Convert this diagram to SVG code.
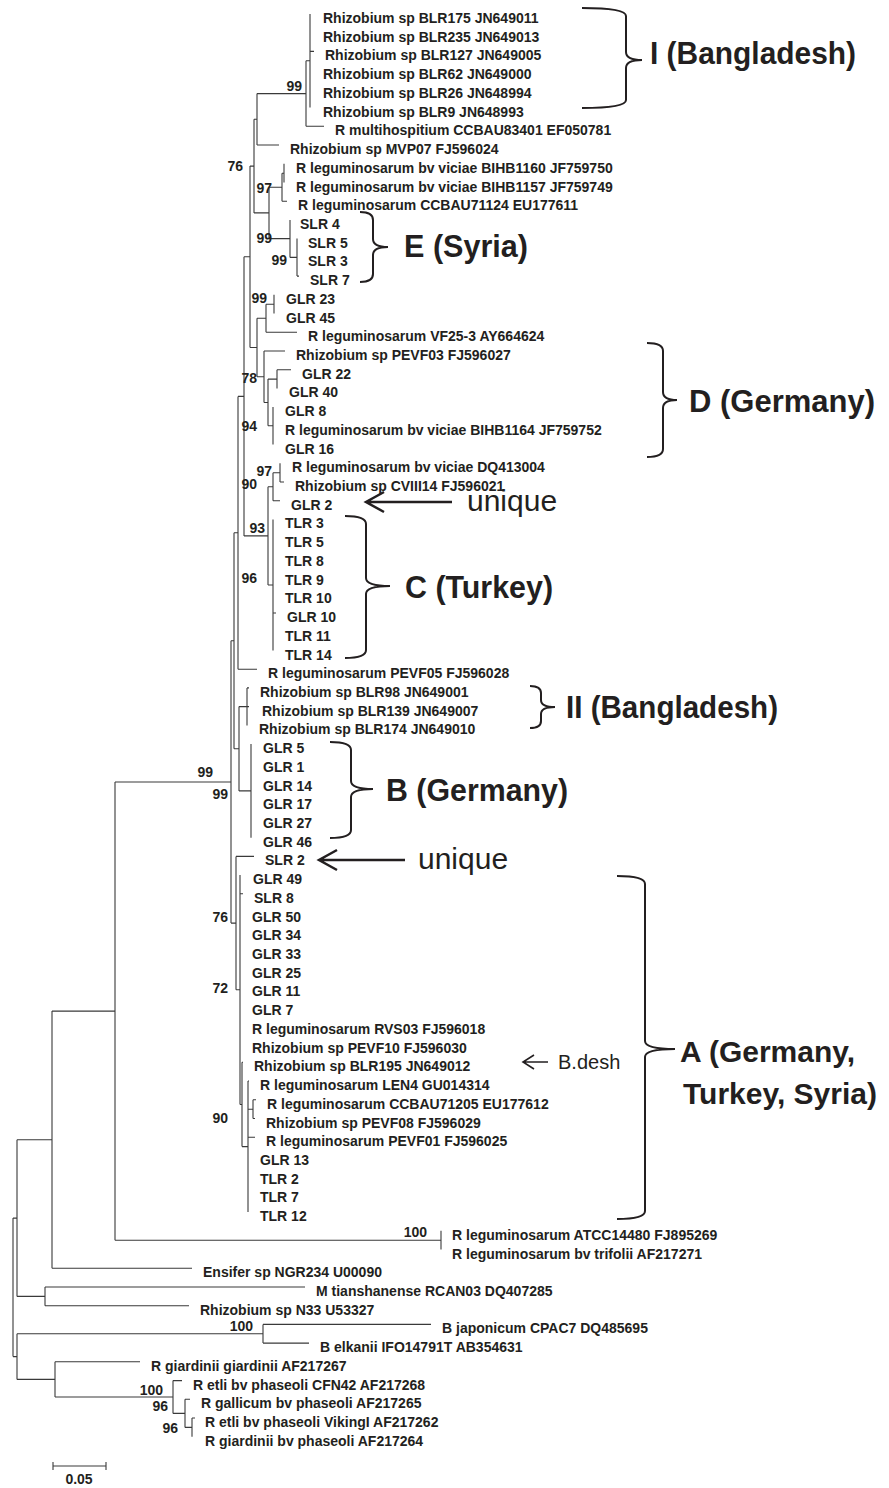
<svg xmlns="http://www.w3.org/2000/svg" width="889" height="1488" viewBox="0 0 889 1488">
<style>
.t{font-family:"Liberation Sans",Arial,sans-serif;font-weight:bold;font-size:14px;fill:#231f20}
.bs{font-family:"Liberation Sans",Arial,sans-serif;font-weight:bold;font-size:14px;fill:#231f20;text-anchor:end}
.big{font-family:"Liberation Sans",Arial,sans-serif;font-weight:bold;font-size:32px;fill:#231f20}
.bigA{font-family:"Liberation Sans",Arial,sans-serif;font-weight:bold;font-size:30px;fill:#231f20}
.uq{font-family:"Liberation Sans",Arial,sans-serif;font-size:30px;fill:#231f20}
.bd{font-family:"Liberation Sans",Arial,sans-serif;font-size:20px;fill:#231f20}
.br{fill:none;stroke:#231f20;stroke-width:2}
.ar{fill:none;stroke:#231f20;stroke-width:2.5}
.tree path{fill:none;stroke:#3a3a3a;stroke-width:1.1}
</style>
<rect width="889" height="1488" fill="#fff"/>
<g id="connectors" class="tree">
<path d="M13 1218.1V1356.6M13 1218.1H17M13 1356.6H17"/>
<path d="M17 1139.7V1296.4M17 1139.7H52M17 1296.4H45"/>
<path d="M52 1011.1V1268.2M52 1011.1H115M52 1268.2H192"/>
<path d="M45 1287V1305.7M45 1287H305M45 1305.7H189"/>
<path d="M17 1333.8V1379.4M17 1333.8H263M17 1379.4H55"/>
<path d="M263 1324.4V1343.1M263 1324.4H431M263 1343.1H309"/>
<path d="M55 1361.8V1397M55 1361.8H140M55 1397H173"/>
<path d="M173 1380.6V1413.4M173 1380.6H182M173 1413.4H185"/>
<path d="M185 1399.3V1427.4M185 1399.3H190M185 1427.4H192"/>
<path d="M192 1418V1436.7M192 1418H195"/>
<path d="M115 782V1240.2M115 782H231M115 1240.2H441"/>
<path d="M441 1230.8V1249.5"/>
<path d="M231 640.8V923.1M231 640.8H234M231 923.1H236"/>
<path d="M234 532.8V748.8M234 532.8H238M234 748.8H239"/>
<path d="M238 396.4V669.2M238 396.4H244M238 669.2H257"/>
<path d="M239 706.6V790.9M239 706.6H249M239 790.9H251"/>
<path d="M247 687.9V725.4M247 687.9H249"/>
<path d="M251 744.1V837.7"/>
<path d="M244 256.8V535.9M244 256.8H250M244 535.9H268"/>
<path d="M250 166.1V347.5M250 166.1H254M250 347.5H257"/>
<path d="M254 119.3V212.9M254 119.3H257M254 212.9H269"/>
<path d="M257 93.6V145M257 93.6H306M257 145H279"/>
<path d="M306 60.8V126.3M306 60.8H310M306 126.3H324"/>
<path d="M310 14V107.6M310 51.4H314"/>
<path d="M269 187.2V238.6M269 187.2H282M269 238.6H290"/>
<path d="M282 173.2V201.2M282 173.2H284M282 201.2H287"/>
<path d="M284 163.8V182.5"/>
<path d="M290 219.9V257.4M290 257.4H297"/>
<path d="M297 238.6V276.1M297 276.1H299"/>
<path d="M257 318.2V376.7M257 318.2H266M257 376.7H264"/>
<path d="M266 304.2V332.2M266 304.2H274M266 332.2H297"/>
<path d="M274 294.8V313.5"/>
<path d="M264 351V402.5M264 351H285M264 402.5H268"/>
<path d="M268 379.1V425.8M268 379.1H277M268 425.8H273"/>
<path d="M277 369.7V388.4M277 369.7H291"/>
<path d="M273 407.1V444.6"/>
<path d="M268 486.7V585M268 486.7H273M268 585H273"/>
<path d="M273 472.7V500.7M273 472.7H280M273 500.7H280"/>
<path d="M280 463.3V482M280 482H284"/>
<path d="M273 519.4V650.5M273 613H276"/>
<path d="M236 856.4V989.8M236 856.4H254M236 989.8H240"/>
<path d="M240 875.1V1104.5M240 893.8H243M240 1104.5H242"/>
<path d="M242 1062.3V1146.6M242 1062.3H243M242 1146.6H248"/>
<path d="M248 1081V1212.1M248 1081H249M248 1109.2H253M248 1137.2H255"/>
<path d="M253 1099.8V1118.5M253 1099.8H256M253 1118.5H255"/>
<path d="M53 1466H106M53 1462V1470M106 1462V1470"/>
</g>
<g id="leaves">
<g id="n1"><text class="t" x="323" y="23">Rhizobium sp BLR175 JN649011</text></g>
<g id="n2"><text class="t" x="323" y="41.7">Rhizobium sp BLR235 JN649013</text></g>
<g id="n3"><text class="t" x="325" y="60.4">Rhizobium sp BLR127 JN649005</text></g>
<g id="n4"><text class="t" x="323" y="79.2">Rhizobium sp BLR62 JN649000</text></g>
<g id="n5"><text class="t" x="323" y="97.9">Rhizobium sp BLR26 JN648994</text></g>
<g id="n6"><text class="t" x="323" y="116.6">Rhizobium sp BLR9 JN648993</text></g>
<g id="n7"><text class="t" x="335" y="135.3">R multihospitium CCBAU83401 EF050781</text></g>
<g id="n8"><text class="t" x="290" y="154">Rhizobium sp MVP07 FJ596024</text></g>
<g id="n9"><text class="t" x="296" y="172.8">R leguminosarum bv viciae BIHB1160 JF759750</text></g>
<g id="n10"><text class="t" x="296" y="191.5">R leguminosarum bv viciae BIHB1157 JF759749</text></g>
<g id="n11"><text class="t" x="298" y="210.2">R leguminosarum CCBAU71124 EU177611</text></g>
<g id="n12"><text class="t" x="300" y="228.9">SLR 4</text></g>
<g id="n13"><text class="t" x="308" y="247.6">SLR 5</text></g>
<g id="n14"><text class="t" x="308" y="266.4">SLR 3</text></g>
<g id="n15"><text class="t" x="310" y="285.1">SLR 7</text></g>
<g id="n16"><text class="t" x="286" y="303.8">GLR 23</text></g>
<g id="n17"><text class="t" x="286" y="322.5">GLR 45</text></g>
<g id="n18"><text class="t" x="308" y="341.2">R leguminosarum VF25-3 AY664624</text></g>
<g id="n19"><text class="t" x="296" y="360">Rhizobium sp PEVF03 FJ596027</text></g>
<g id="n20"><text class="t" x="302" y="378.7">GLR 22</text></g>
<g id="n21"><text class="t" x="289" y="397.4">GLR 40</text></g>
<g id="n22"><text class="t" x="285" y="416.1">GLR 8</text></g>
<g id="n23"><text class="t" x="285" y="434.8">R leguminosarum bv viciae BIHB1164 JF759752</text></g>
<g id="n24"><text class="t" x="285" y="453.6">GLR 16</text></g>
<g id="n25"><text class="t" x="292" y="472.3">R leguminosarum bv viciae DQ413004</text></g>
<g id="n26"><text class="t" x="295" y="491">Rhizobium sp CVIII14 FJ596021</text></g>
<g id="n27"><text class="t" x="291" y="509.7">GLR 2</text></g>
<g id="n28"><text class="t" x="285" y="528.4">TLR 3</text></g>
<g id="n29"><text class="t" x="285" y="547.2">TLR 5</text></g>
<g id="n30"><text class="t" x="285" y="565.9">TLR 8</text></g>
<g id="n31"><text class="t" x="285" y="584.6">TLR 9</text></g>
<g id="n32"><text class="t" x="285" y="603.3">TLR 10</text></g>
<g id="n33"><text class="t" x="287" y="622">GLR 10</text></g>
<g id="n34"><text class="t" x="285" y="640.8">TLR 11</text></g>
<g id="n35"><text class="t" x="285" y="659.5">TLR 14</text></g>
<g id="n36"><text class="t" x="268" y="678.2">R leguminosarum PEVF05 FJ596028</text></g>
<g id="n37"><text class="t" x="260" y="696.9">Rhizobium sp BLR98 JN649001</text></g>
<g id="n38"><text class="t" x="262" y="715.6">Rhizobium sp BLR139 JN649007</text></g>
<g id="n39"><text class="t" x="259" y="734.4">Rhizobium sp BLR174 JN649010</text></g>
<g id="n40"><text class="t" x="263" y="753.1">GLR 5</text></g>
<g id="n41"><text class="t" x="263" y="771.8">GLR 1</text></g>
<g id="n42"><text class="t" x="263" y="790.5">GLR 14</text></g>
<g id="n43"><text class="t" x="263" y="809.2">GLR 17</text></g>
<g id="n44"><text class="t" x="263" y="828">GLR 27</text></g>
<g id="n45"><text class="t" x="263" y="846.7">GLR 46</text></g>
<g id="n46"><text class="t" x="265" y="865.4">SLR 2</text></g>
<g id="n47"><text class="t" x="253" y="884.1">GLR 49</text></g>
<g id="n48"><text class="t" x="254" y="902.8">SLR 8</text></g>
<g id="n49"><text class="t" x="252" y="921.6">GLR 50</text></g>
<g id="n50"><text class="t" x="252" y="940.3">GLR 34</text></g>
<g id="n51"><text class="t" x="252" y="959">GLR 33</text></g>
<g id="n52"><text class="t" x="252" y="977.7">GLR 25</text></g>
<g id="n53"><text class="t" x="252" y="996.4">GLR 11</text></g>
<g id="n54"><text class="t" x="252" y="1015.2">GLR 7</text></g>
<g id="n55"><text class="t" x="252" y="1033.9">R leguminosarum RVS03 FJ596018</text></g>
<g id="n56"><text class="t" x="252" y="1052.6">Rhizobium sp PEVF10 FJ596030</text></g>
<g id="n57"><text class="t" x="254" y="1071.3">Rhizobium sp BLR195 JN649012</text></g>
<g id="n58"><text class="t" x="260" y="1090">R leguminosarum LEN4 GU014314</text></g>
<g id="n59"><text class="t" x="267" y="1108.8">R leguminosarum CCBAU71205 EU177612</text></g>
<g id="n60"><text class="t" x="266" y="1127.5">Rhizobium sp PEVF08 FJ596029</text></g>
<g id="n61"><text class="t" x="266" y="1146.2">R leguminosarum PEVF01 FJ596025</text></g>
<g id="n62"><text class="t" x="260" y="1164.9">GLR 13</text></g>
<g id="n63"><text class="t" x="260" y="1183.6">TLR 2</text></g>
<g id="n64"><text class="t" x="260" y="1202.4">TLR 7</text></g>
<g id="n65"><text class="t" x="260" y="1221.1">TLR 12</text></g>
<g id="n66"><text class="t" x="452" y="1239.8">R leguminosarum ATCC14480 FJ895269</text></g>
<g id="n67"><text class="t" x="452" y="1258.5">R leguminosarum bv trifolii AF217271</text></g>
<g id="n68"><text class="t" x="203" y="1277.2">Ensifer sp NGR234 U00090</text></g>
<g id="n69"><text class="t" x="316" y="1296">M tianshanense RCAN03 DQ407285</text></g>
<g id="n70"><text class="t" x="200" y="1314.7">Rhizobium sp N33 U53327</text></g>
<g id="n71"><text class="t" x="442" y="1333.4">B japonicum CPAC7 DQ485695</text></g>
<g id="n72"><text class="t" x="320" y="1352.1">B elkanii IFO14791T AB354631</text></g>
<g id="n73"><text class="t" x="151" y="1370.8">R giardinii giardinii AF217267</text></g>
<g id="n74"><text class="t" x="193" y="1389.6">R etli bv phaseoli CFN42 AF217268</text></g>
<g id="n75"><text class="t" x="201" y="1408.3">R gallicum bv phaseoli AF217265</text></g>
<g id="n76"><text class="t" x="205" y="1427">R etli bv phaseoli VikingI AF217262</text></g>
<g id="n77"><text class="t" x="205" y="1445.7">R giardinii bv phaseoli AF217264</text></g>
</g>
<g id="bootstrap">
<text class="bs" x="302" y="91">99</text>
<text class="bs" x="243" y="171">76</text>
<text class="bs" x="272" y="193">97</text>
<text class="bs" x="272" y="243">99</text>
<text class="bs" x="287" y="265">99</text>
<text class="bs" x="267" y="303">99</text>
<text class="bs" x="257" y="383">78</text>
<text class="bs" x="257" y="431">94</text>
<text class="bs" x="272" y="476">97</text>
<text class="bs" x="257" y="489">90</text>
<text class="bs" x="265" y="533">93</text>
<text class="bs" x="257" y="583">96</text>
<text class="bs" x="213" y="777">99</text>
<text class="bs" x="228" y="799">99</text>
<text class="bs" x="228" y="922">76</text>
<text class="bs" x="228" y="993">72</text>
<text class="bs" x="228" y="1123">90</text>
<text class="bs" x="427" y="1237">100</text>
<text class="bs" x="253" y="1331">100</text>
<text class="bs" x="163" y="1395">100</text>
<text class="bs" x="168" y="1411">96</text>
<text class="bs" x="178" y="1433">96</text>
</g>
<g id="scale"><text class="t" x="79" y="1484" text-anchor="middle">0.05</text></g>
<g id="groupI"><path class="br" d="M582 8Q626 8 626 16V52Q626 60 642 60Q626 60 626 68V100Q626 108 582 108"/><text class="big" x="650" y="64" textLength="206" lengthAdjust="spacingAndGlyphs">I (Bangladesh)</text></g>
<g id="groupE"><path class="br" d="M360 212Q373 212 373 220V239Q373 247 388 247Q373 247 373 255V274Q373 282 360 282"/><text class="big" x="404" y="257" textLength="124" lengthAdjust="spacingAndGlyphs">E (Syria)</text></g>
<g id="groupD"><path class="br" d="M647 343Q663 343 663 351V392Q663 400 677 400Q663 400 663 408V449Q663 457 647 457"/><text class="big" x="689" y="412" textLength="186" lengthAdjust="spacingAndGlyphs">D (Germany)</text></g>
<g id="groupC"><path class="br" d="M345 516Q366 516 366 524V578Q366 586 390 586Q366 586 366 594V650Q366 658 345 658"/><text class="big" x="405" y="598" textLength="148" lengthAdjust="spacingAndGlyphs">C (Turkey)</text></g>
<g id="groupII"><path class="br" d="M530 686Q541 686 541 693V700Q541 707 555 707Q541 707 541 714V721Q541 728 530 728"/><text class="big" x="566" y="718" textLength="212" lengthAdjust="spacingAndGlyphs">II (Bangladesh)</text></g>
<g id="groupB"><path class="br" d="M330 742Q351 742 351 750V781Q351 789 373 789Q351 789 351 797V830Q351 838 330 838"/><text class="big" x="386" y="801" textLength="182" lengthAdjust="spacingAndGlyphs">B (Germany)</text></g>
<g id="groupA"><path class="br" d="M617 876Q645 876 645 884V1041Q645 1049 675 1049Q645 1049 645 1057V1211Q645 1219 617 1219"/><text class="bigA" x="680" y="1062">A (Germany,</text><text class="bigA" x="683" y="1104">Turkey, Syria)</text></g>
<g id="unique1"><path class="ar" d="M452 502H366M384 492L366 502L384 512"/><text class="uq" x="467" y="511">unique</text></g>
<g id="unique2"><path class="ar" d="M405 860H319M337 850L319 860L337 870"/><text class="uq" x="418" y="869">unique</text></g>
<g id="bdesh"><path class="br" d="M548 1062H523M534 1055L523 1062L534 1069" style="stroke-width:1.6"/><text class="bd" x="558" y="1069">B.desh</text></g>
</svg>
